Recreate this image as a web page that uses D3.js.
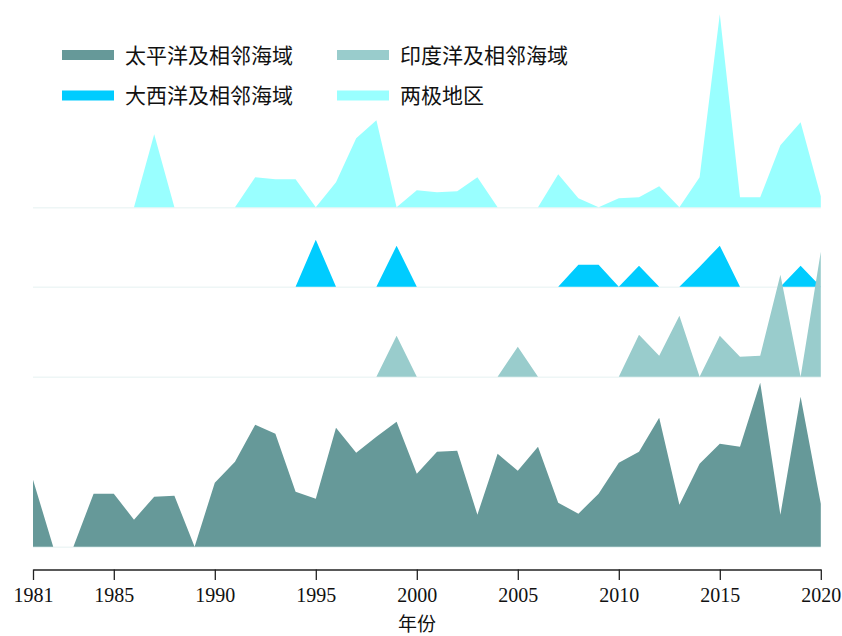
<!DOCTYPE html>
<html>
<head>
<meta charset="utf-8">
<script src="https://cdn.jsdelivr.net/npm/d3@7"></script>
<style>
  body { margin: 0; background: #fff; }
  .tick-label { font-family: "Liberation Serif", "Times New Roman", serif; font-size: 20px; fill: #111; }
  .cjk { font-family: "Noto Sans CJK SC", sans-serif; fill: #111; }
</style>
</head>
<body>
<div id="chart"></div>
<script>
// years on the x axis
var years = [1981, 1982, 1983, 1984, 1985, 1986, 1987, 1988, 1989, 1990,
  1991, 1992, 1993, 1994, 1995, 1996, 1997, 1998, 1999, 2000,
  2001, 2002, 2003, 2004, 2005, 2006, 2007, 2008, 2009, 2010,
  2011, 2012, 2013, 2014, 2015, 2016, 2017, 2018, 2019, 2020];

// series values (same unit for all four bands)
var pacific = [6.7, 0, 0, 5.3, 5.3, 2.7, 5.0, 5.1, 0, 6.4,
  8.5, 12.2, 11.3, 5.5, 4.8, 11.9, 9.4, 11.0, 12.5, 7.3,
  9.5, 9.6, 3.2, 9.3, 7.6, 10.0, 4.4, 3.3, 5.3, 8.4,
  9.5, 12.9, 4.2, 8.3, 10.3, 10.0, 16.4, 3.2, 15.0, 4.3];
var indian = [0, 0, 0, 0, 0, 0, 0, 0, 0, 0,
  0, 0, 0, 0, 0, 0, 0, 0, 4.1, 0,
  0, 0, 0, 0, 3.0, 0, 0, 0, 0, 0,
  4.2, 2.1, 6.1, 0, 4.1, 2.0, 2.1, 10.2, 0, 12.5];
var atlantic = [0, 0, 0, 0, 0, 0, 0, 0, 0, 0,
  0, 0, 0, 0, 4.7, 0, 0, 0, 4.1, 0,
  0, 0, 0, 0, 0, 0, 0, 2.2, 2.2, 0,
  2.1, 0, 0, 2.0, 4.1, 0, 0, 0, 2.1, 0];
var polar = [0, 0, 0, 0, 0, 0, 7.3, 0, 0, 0,
  0, 3.0, 2.8, 2.8, 0, 2.5, 6.9, 8.7, 0, 1.7,
  1.5, 1.6, 3.0, 0, 0, 0, 3.3, 0.9, 0, 0.9,
  1.0, 2.1, 0, 3.0, 19.3, 1.0, 1.0, 6.2, 8.5, 1.1];

// x tick labels
var tickYears = [1981, 1985, 1990, 1995, 2000, 2005, 2010, 2015, 2020];

var svgWidth = 842;
var svgHeight = 636;

var svg = d3.select("#chart")
  .append("svg")
  .attr("width", svgWidth)
  .attr("height", svgHeight);

var xScale = d3.scaleLinear()
  .domain([1981, 2020])
  .range([33, 820.8]);

// one height scale shared by every band
var hScale = d3.scaleLinear()
  .domain([0, 20])
  .range([0, 200]);

// band baselines, top to bottom
var bands = [
  { name: "两极地区", values: polar, color: "#99ffff", base: 207.3 },
  { name: "大西洋及相邻海域", values: atlantic, color: "#00ccff", base: 286.7 },
  { name: "印度洋及相邻海域", values: indian, color: "#99cccc", base: 376.7 },
  { name: "太平洋及相邻海域", values: pacific, color: "#669999", base: 546.7 }
];

var area = d3.area()
  .x(d => xScale(d.year))
  .y0(0)
  .y1(d => -hScale(d.value));

bands.forEach(function(band) {
  var g = svg.append("g")
    .attr("transform", `translate(0, ${band.base})`);

  // faint baseline
  g.append("line")
    .attr("x1", xScale(1981))
    .attr("x2", xScale(2020))
    .attr("y1", 0.5)
    .attr("y2", 0.5)
    .attr("stroke", "#eef6f6")
    .attr("stroke-width", 1.5);

  var pts = years.map((y, i) => ({ year: y, value: band.values[i] }));
  g.append("path")
    .datum(pts)
    .attr("d", area)
    .attr("fill", band.color);
});

// x axis
var xAxis = d3.axisBottom(xScale)
  .tickValues(tickYears)
  .tickFormat(d3.format("d"))
  .tickSize(10.5)
  .tickSizeOuter(0)
  .tickPadding(7.8);

var axisG = svg.append("g")
  .attr("transform", "translate(0, 569.5)")
  .call(xAxis);

axisG.select(".domain").attr("stroke", "#222").attr("stroke-width", 1.3);
axisG.selectAll(".tick line").attr("stroke", "#222").attr("stroke-width", 1.3);
axisG.selectAll(".tick text")
  .attr("class", "tick-label")
  .attr("font-family", null)
  .attr("font-size", null);

svg.append("text")
  .attr("class", "cjk")
  .attr("x", 417)
  .attr("y", 631)
  .attr("text-anchor", "middle")
  .attr("font-size", 19)
  .text("年份");

// legend, two columns
var legendItems = [
  { name: "太平洋及相邻海域", color: "#669999", x: 62, y: 50 },
  { name: "大西洋及相邻海域", color: "#00ccff", x: 62, y: 90.5 },
  { name: "印度洋及相邻海域", color: "#99cccc", x: 337, y: 50 },
  { name: "两极地区", color: "#99ffff", x: 337, y: 90.5 }
];

var legend = svg.append("g");
legendItems.forEach(function(item) {
  legend.append("rect")
    .attr("x", item.x)
    .attr("y", item.y)
    .attr("width", 52)
    .attr("height", 10)
    .attr("fill", item.color);
  legend.append("text")
    .attr("class", "cjk")
    .attr("x", item.x + 63)
    .attr("y", item.y + 5)
    .attr("dy", "0.36em")
    .attr("font-size", 21)
    .text(item.name);
});
</script>
</body>
</html>
